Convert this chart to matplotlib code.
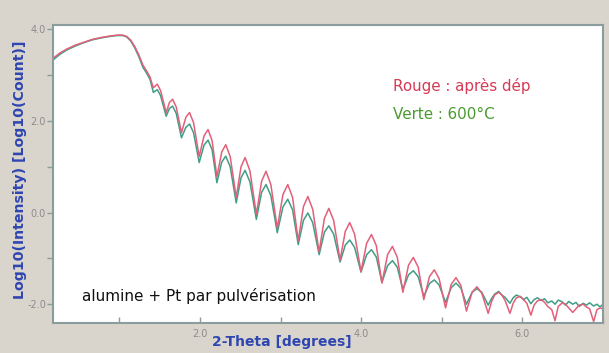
import numpy as np
import matplotlib.pyplot as plt
from matplotlib.ticker import MultipleLocator

# 2-theta values (axis units), split by region
theta_start = [0.17, 0.26, 0.35, 0.45, 0.55, 0.67, 0.78, 0.88, 0.97, 1.04,
               1.09, 1.14, 1.19, 1.24, 1.29, 1.34, 1.38]
theta_fringes = [1.42, 1.47, 1.51,
                 1.58, 1.62, 1.66, 1.705,
                 1.77, 1.825, 1.87, 1.92,
                 1.99, 2.05, 2.10, 2.15,
                 2.21, 2.27, 2.32, 2.375,
                 2.45, 2.51, 2.56, 2.62,
                 2.70, 2.765, 2.82, 2.88,
                 2.96, 3.03, 3.09, 3.15,
                 3.22, 3.285, 3.34, 3.40,
                 3.48, 3.545, 3.60, 3.66,
                 3.74, 3.805, 3.86, 3.92,
                 4.00, 4.07, 4.13, 4.19,
                 4.26, 4.33, 4.39, 4.45,
                 4.52, 4.59, 4.65, 4.71,
                 4.78, 4.85, 4.91, 4.97,
                 5.05, 5.12, 5.18, 5.24,
                 5.31, 5.38, 5.44, 5.50]
theta_tail = [5.58, 5.62, 5.66, 5.71, 5.75, 5.79, 5.85, 5.89, 5.93, 5.98,
              6.02, 6.06, 6.11, 6.15, 6.19, 6.24, 6.28, 6.32, 6.37, 6.41,
              6.45, 6.50, 6.54, 6.58, 6.63, 6.67, 6.71, 6.76, 6.80, 6.84,
              6.89, 6.93, 6.97, 7.00]

# red curve (as deposited)
red_start = [3.36, 3.48, 3.57, 3.65, 3.71, 3.78, 3.82, 3.85, 3.87, 3.87,
             3.84, 3.76, 3.62, 3.44, 3.22, 3.08, 2.95]
red_fringes = [2.72, 2.80, 2.66,
               2.18, 2.40, 2.47, 2.30,
               1.74, 2.08, 2.18, 1.96,
               1.22, 1.67, 1.81, 1.57,
               0.78, 1.32, 1.48, 1.22,
               0.33, 1.00, 1.20, 0.91,
               -0.04, 0.68, 0.90, 0.61,
               -0.34, 0.39, 0.61, 0.33,
               -0.62, 0.13, 0.35, 0.07,
               -0.86, -0.13, 0.09, -0.17,
               -1.04, -0.41, -0.22, -0.47,
               -1.29, -0.67, -0.48, -0.72,
               -1.54, -0.92, -0.74, -0.97,
               -1.74, -1.15, -0.98, -1.19,
               -1.90, -1.40, -1.25, -1.44,
               -2.08, -1.57, -1.42, -1.59,
               -2.15, -1.74, -1.62, -1.76]
red_tail = [-2.20, -1.95, -1.80, -1.74, -1.80, -1.92, -2.20, -1.98, -1.86, -1.83,
            -1.90, -1.98, -2.24, -2.02, -1.93, -1.90, -1.96, -2.05, -2.12, -2.36,
            -2.05, -1.97, -2.00, -2.08, -2.18, -2.10, -2.02, -2.00, -2.06, -2.10,
            -2.38, -2.12, -2.08, -2.10]

# green curve (600 C)
green_start = [3.32, 3.45, 3.55, 3.63, 3.70, 3.77, 3.81, 3.84, 3.86, 3.86,
               3.83, 3.74, 3.59, 3.40, 3.17, 3.03, 2.90]
green_fringes = [2.62, 2.68, 2.55,
                 2.10, 2.27, 2.32, 2.16,
                 1.63, 1.86, 1.93, 1.74,
                 1.09, 1.47, 1.58, 1.37,
                 0.65, 1.10, 1.23, 1.00,
                 0.21, 0.76, 0.92, 0.67,
                 -0.15, 0.44, 0.61, 0.37,
                 -0.44, 0.12, 0.29, 0.06,
                 -0.70, -0.17, -0.01, -0.22,
                 -0.92, -0.43, -0.29, -0.47,
                 -1.08, -0.71, -0.60, -0.76,
                 -1.30, -0.92, -0.81, -0.97,
                 -1.52, -1.16, -1.05, -1.19,
                 -1.68, -1.36, -1.27, -1.40,
                 -1.83, -1.55, -1.47, -1.58,
                 -1.96, -1.64, -1.54, -1.65,
                 -2.00, -1.74, -1.66, -1.74]
green_tail = [-2.02, -1.88, -1.78, -1.72, -1.80, -1.85, -1.98, -1.86, -1.80, -1.84,
              -1.90, -1.85, -1.99, -1.90, -1.86, -1.92, -1.88, -1.97, -1.93, -2.00,
              -1.91, -1.95, -2.02, -1.94, -2.00, -1.96, -2.05, -1.98, -2.02, -1.97,
              -2.04, -2.00, -2.06, -2.01]

theta = np.concatenate([theta_start, theta_fringes, theta_tail])
red = np.concatenate([red_start, red_fringes, red_tail])
green = np.concatenate([green_start, green_fringes, green_tail])

bg = '#d9d5cd'
blue = '#2f45b0'
spine_col = '#8a9c9c'

fig = plt.figure(figsize=(6.09, 3.53), dpi=100, facecolor=bg)
ax = fig.add_axes([53 / 609, 1 - 323 / 353, 550 / 609, 298 / 353])
ax.set_facecolor('white')

ax.plot(theta, green, color='#3f9e86', lw=1.1)
ax.plot(theta, red, color='#e2607a', lw=1.1)

ax.set_xlim(0.174, 7.006)
ax.set_ylim(-2.41, 4.09)

ax.xaxis.set_major_locator(MultipleLocator(2.0))
ax.xaxis.set_minor_locator(MultipleLocator(1.0))
ax.yaxis.set_major_locator(MultipleLocator(2.0))
ax.yaxis.set_minor_locator(MultipleLocator(1.0))
ax.xaxis.set_major_formatter(plt.FormatStrFormatter('%.1f'))
ax.yaxis.set_major_formatter(plt.FormatStrFormatter('%.1f'))

ax.tick_params(axis='x', which='both', direction='in', length=4, width=1,
               color=spine_col, labelsize=7, labelcolor='#8c8c8c', pad=4)
ax.tick_params(axis='y', which='both', direction='out', length=4, width=1,
               color=spine_col, labelsize=7, labelcolor='#8c8c8c', pad=1)

for s in ax.spines.values():
    s.set_color(spine_col)
    s.set_linewidth(1.5)

ax.text(4.40, 2.77, 'Rouge : après dép', color='#d63a55', fontsize=10.9, va='center')
ax.text(4.40, 2.14, 'Verte : 600°C', color='#4a9a30', fontsize=10.9, va='center')
ax.text(0.53, -1.83, 'alumine + Pt par pulvérisation', color='#111111',
        fontsize=11, va='center')

fig.text(282 / 609, 1 - 342 / 353, '2-Theta [degrees]', color=blue,
         fontsize=10, fontweight='bold', ha='center', va='center')
fig.text(20 / 609, 1 - 170 / 353, 'Log10(Intensity) [Log10(Count)]', color=blue,
         fontsize=10.2, fontweight='bold', rotation=90, ha='center', va='center')

plt.savefig('out.png', dpi=100, facecolor=bg)
plt.close()
